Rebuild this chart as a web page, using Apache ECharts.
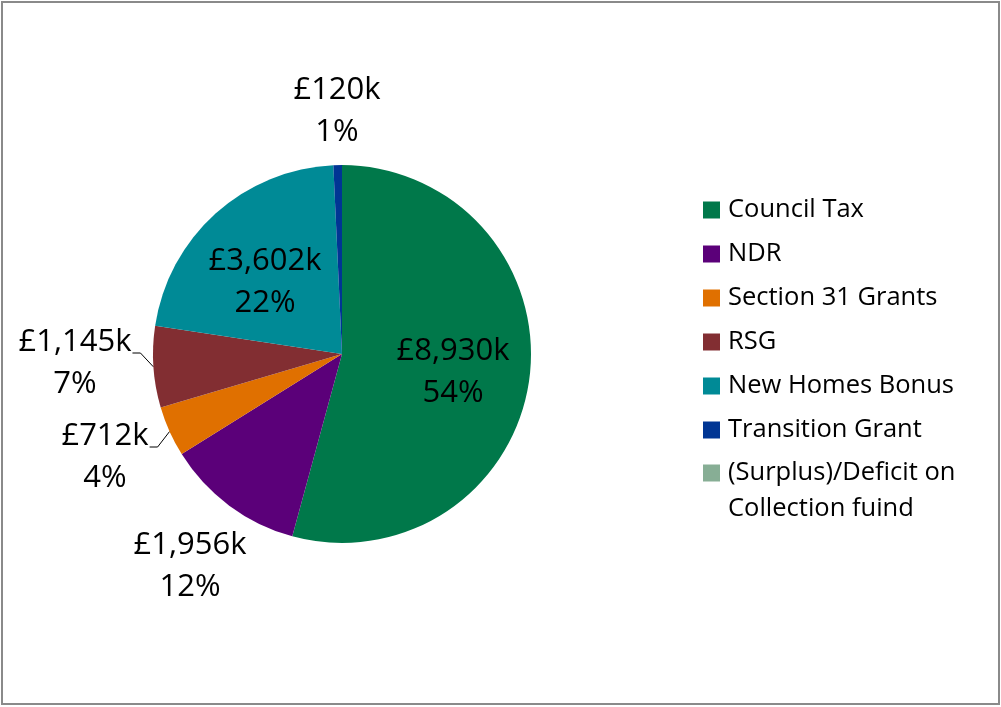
<!DOCTYPE html>
<html>
<head>
<meta charset="utf-8">
<script src="https://cdn.jsdelivr.net/npm/echarts@6/dist/echarts.min.js"></script>
<style>
  html, body { margin: 0; padding: 0; background: #fff; }
  #chart { width: 1001px; height: 707px; }
</style>
</head>
<body>
<div id="chart"></div>
<script>
// Funding sources (£k)
const categories = [
  'Council Tax',
  'NDR',
  'Section 31 Grants',
  'RSG',
  'New Homes Bonus',
  'Transition Grant',
  '(Surplus)/Deficit on\nCollection fuind'
];
const values = [8930, 1956, 712, 1145, 3602, 120, 0];
const colors = ['#00784A', '#5B0079', '#E07000', '#822E32', '#008A96', '#003594', '#87AE95'];

// Where each value label sits (centre of its two-line block) and which get a leader line
const labelPlacement = [
  { x: 453, y: 372, line: false },
  { x: 190, y: 566, line: false },
  { x: 105, y: 457, line: true },
  { x: 75,  y: 363, line: true },
  { x: 265, y: 282, line: false },
  { x: 337, y: 111, line: false },
  null
];

const FONT = '"Open Sans", Lato, sans-serif';
const LABEL_LINE_H = 42;

const chart = echarts.init(document.getElementById('chart'), null, { renderer: 'canvas' });

const pieData = categories.map((name, i) => ({
  name: name,
  value: values[i],
  itemStyle: { color: colors[i] },
  label: { show: values[i] > 0 },
  labelLine: { show: !!(labelPlacement[i] && labelPlacement[i].line) }
}));

const legendText = {
  fontFamily: FONT,
  fontSize: 25.5,
  color: '#000',
  lineHeight: 36,
  padding: [0, 0, 0, 3]
};

chart.setOption({
  animation: false,
  backgroundColor: '#fff',
  graphic: [{
    type: 'rect',
    shape: { x: 2, y: 2, width: 997, height: 702 },
    style: { fill: 'none', stroke: '#8a8a8a', lineWidth: 2 },
    silent: true
  }],
  legend: [
    {
      orient: 'vertical',
      left: 703,
      top: 192,
      padding: 0,
      itemWidth: 17,
      itemHeight: 17,
      itemGap: 8,
      icon: 'rect',
      data: categories.slice(0, 6),
      textStyle: legendText
    },
    {
      // two-line entry, icon aligned with its first line
      orient: 'vertical',
      left: 703,
      top: 419,
      padding: 0,
      itemWidth: 17,
      itemHeight: 17,
      icon: 'rect',
      data: categories.slice(6),
      formatter: name => '\n' + name,
      textStyle: legendText
    }
  ],
  series: [{
    type: 'pie',
    center: [342, 354],
    radius: 189,
    startAngle: 90,
    clockwise: true,
    avoidLabelOverlap: false,
    stillShowZeroSum: false,
    itemStyle: { borderWidth: 0 },
    emphasis: { disabled: true },
    label: {
      position: 'outside',
      fontFamily: FONT,
      fontSize: 31,
      color: '#000',
      lineHeight: LABEL_LINE_H,
      align: 'center',
      formatter: p => '£' + p.value.toLocaleString('en-GB') + 'k\n' + Math.round(p.percent) + '%'
    },
    labelLine: {
      length: 10,
      length2: 10,
      lineStyle: { color: '#000', width: 1 }
    },
    labelLayout: function (params) {
      const place = labelPlacement[params.dataIndex];
      if (!place) return {};
      const out = { x: place.x, y: place.y, align: 'center', verticalAlign: 'middle' };
      if (place.line && params.labelLinePoints) {
        const edge = params.labelLinePoints[0];
        const right = place.x + params.labelRect.width / 2;
        const yLine = place.y - LABEL_LINE_H / 2 + 11;
        out.labelLinePoints = [edge, [right + 9, yLine], [right + 1, yLine]];
      }
      return out;
    },
    data: pieData
  }]
});
</script>
</body>
</html>
